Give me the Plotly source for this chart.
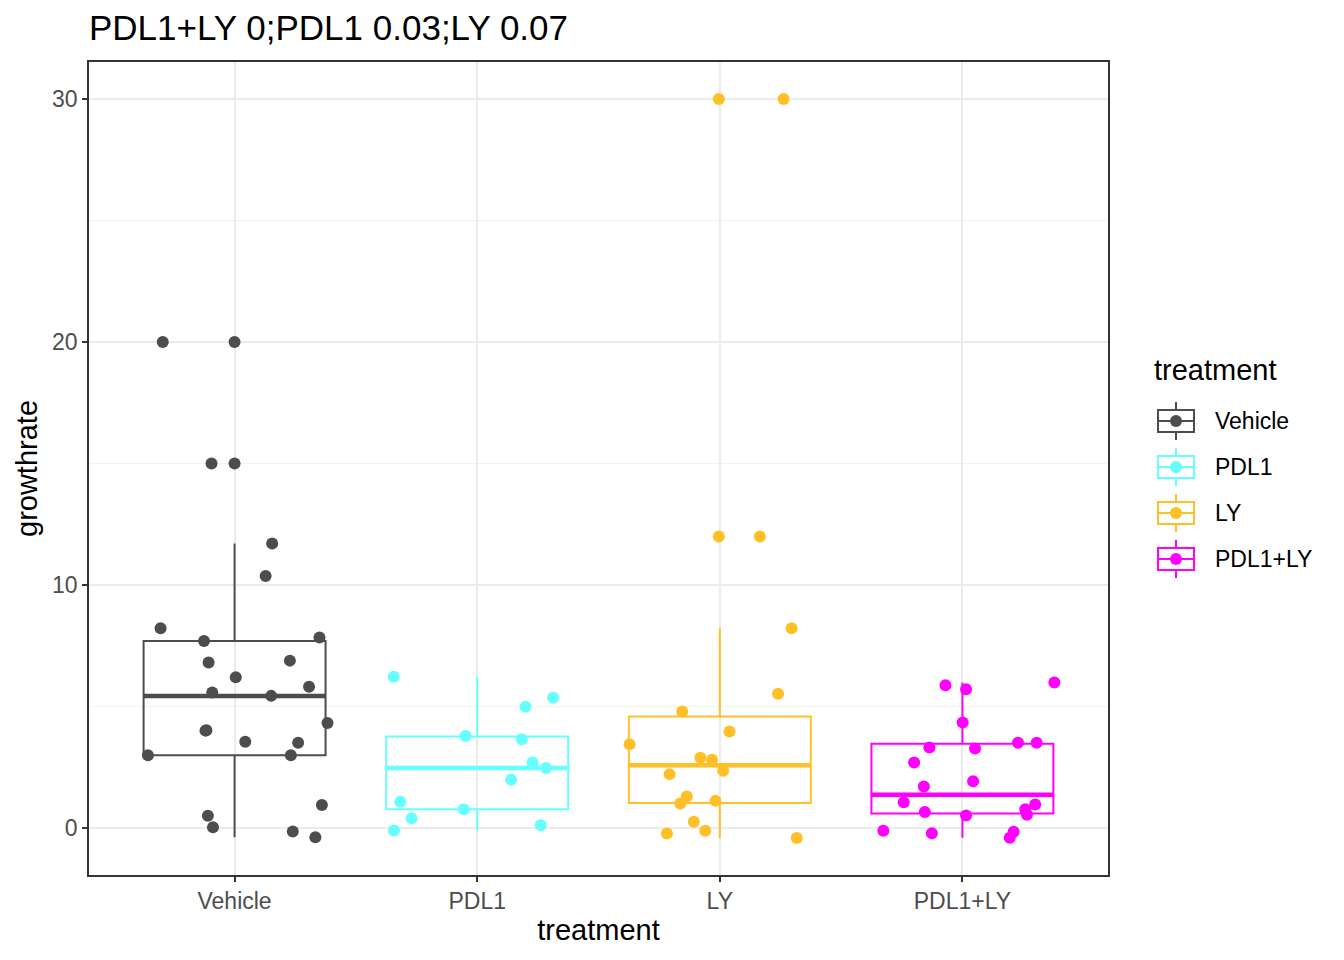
import plotly.graph_objects as go

categories = ["Vehicle", "PDL1", "LY", "PDL1+LY"]
colors = ["#4D4D4D", "#66FFFF", "#FFBF26", "#FF00FF"]

vehicle_growth = [20, 20, 15, 15, 11.71, 10.37, 8.22, 7.70, 7.84, 6.81, 6.89, 6.21, 5.82, 5.58,
                  5.44, 4.32, 4.03, 4.01, 3.55, 3.51, 3.0, 3.0, 0.95, 0.51, 0.03, -0.14, -0.38]
vehicle_jitter = [-0.296, 0.0, -0.095, 0.0, 0.155, 0.128, -0.305, -0.126, 0.35, -0.107, 0.228, 0.005, 0.307, -0.092,
                  0.151, 0.383, -0.116, -0.12, 0.044, 0.262, -0.357, 0.232, 0.36, -0.11, -0.089, 0.24, 0.333]

pdl1_growth = [6.23, 5.36, 4.99, 3.79, 3.66, 2.70, 2.47, 1.99, 1.08, 0.78, 0.40, 0.12, -0.10]
pdl1_jitter = [-0.344, 0.313, 0.199, -0.048, 0.184, 0.228, 0.284, 0.14, -0.317, -0.055, -0.27, 0.262, -0.343]

ly_growth = [30, 30, 12, 12, 8.22, 5.53, 4.80, 3.97, 3.45, 2.89, 2.81, 2.36, 2.22, 1.30, 1.01, 1.12,
             0.26, -0.22, -0.11, -0.41]
ly_jitter = [-0.004, 0.263, -0.004, 0.165, 0.296, 0.24, -0.155, 0.04, -0.372, -0.08, -0.032, 0.014, -0.207,
             -0.136, -0.163, -0.018, -0.107, -0.218, -0.06, 0.317]

combo_growth = [5.88, 5.71, 5.99, 4.34, 3.32, 3.27, 3.51, 3.51, 2.70, 1.93, 1.71, 1.06, 0.66, 0.52, 0.78,
                0.97, 0.55, -0.11, -0.21, -0.15, -0.40]
combo_jitter = [-0.07, 0.015, 0.379, 0.001, -0.136, 0.052, 0.229, 0.306, -0.199, 0.044, -0.159, -0.242,
                -0.155, 0.015, 0.259, 0.3, 0.266, -0.326, -0.126, 0.211, 0.195]

box_q1 = [3.0, 0.78, 1.03, 0.60]
box_median = [5.43, 2.47, 2.59, 1.37]
box_q3 = [7.70, 3.77, 4.59, 3.47]
box_lower = [-0.38, -0.10, -0.41, -0.40]
box_upper = [11.71, 6.23, 8.22, 5.99]

y_ticks = [0, 10, 20, 30]
title_text = "PDL1+LY 0;PDL1 0.03;LY 0.07"
legend_title = "treatment"

growth = [vehicle_growth, pdl1_growth, ly_growth, combo_growth]
jitter = [vehicle_jitter, pdl1_jitter, ly_jitter, combo_jitter]

# page body has an 8px margin; compensate so the plot lands where intended
W, H = 1336, 952
ML, MR, MT, MB = 81, 236, 54, 85
PW = W - ML - MR
PH = H - MT - MB


def px_x(px):
    return (px - 8 - ML) / PW


def px_y(py):
    return (H - MB - (py - 8)) / PH


BOX_W = 0.75
fig = go.Figure()

for i, cat in enumerate(categories):
    pos = i + 1
    fig.add_trace(go.Box(
        x=[pos], q1=[box_q1[i]], median=[box_median[i]], q3=[box_q3[i]],
        lowerfence=[box_lower[i]], upperfence=[box_upper[i]],
        width=BOX_W, whiskerwidth=0, boxpoints=False,
        line=dict(color=colors[i], width=2), fillcolor="rgba(255,255,255,0)",
        name=cat, showlegend=False, hoverinfo="skip",
    ))
    fig.add_trace(go.Scatter(
        x=[pos - BOX_W / 2, pos + BOX_W / 2], y=[box_median[i]] * 2,
        mode="lines", line=dict(color=colors[i], width=4.5),
        showlegend=False, hoverinfo="skip",
    ))

for i, cat in enumerate(categories):
    pos = i + 1
    fig.add_trace(go.Scatter(
        x=[pos + j for j in jitter[i]], y=growth[i],
        mode="markers", marker=dict(color=colors[i], size=12, line=dict(width=0)),
        showlegend=False, name=cat,
    ))

# manual ggplot-style legend
shapes = []
annotations = []
annotations.append(dict(text=legend_title, xref="paper", yref="paper", x=px_x(1152), y=px_y(370),
                        xanchor="left", yanchor="middle", showarrow=False,
                        font=dict(size=29, color="black")))
for i, cat in enumerate(categories):
    cy = 421 + 46 * i
    c = colors[i]
    shapes.append(dict(type="line", xref="paper", yref="paper", x0=px_x(1176), x1=px_x(1176),
                       y0=px_y(cy - 19), y1=px_y(cy + 19), line=dict(color=c, width=2)))
    shapes.append(dict(type="rect", xref="paper", yref="paper", x0=px_x(1158), x1=px_x(1194),
                       y0=px_y(cy - 11), y1=px_y(cy + 11), line=dict(color=c, width=2), fillcolor="white"))
    shapes.append(dict(type="line", xref="paper", yref="paper", x0=px_x(1158), x1=px_x(1194),
                       y0=px_y(cy), y1=px_y(cy), line=dict(color=c, width=2)))
    shapes.append(dict(type="circle", xref="paper", yref="paper", x0=px_x(1170), x1=px_x(1182),
                       y0=px_y(cy - 6), y1=px_y(cy + 6), line=dict(color=c, width=0), fillcolor=c))
    annotations.append(dict(text=cat, xref="paper", yref="paper", x=px_x(1213), y=px_y(cy),
                            xanchor="left", yanchor="middle", showarrow=False,
                            font=dict(size=23, color="black")))

fig.update_layout(
    width=W, height=H,
    margin=dict(l=ML, r=MR, t=MT, b=MB, autoexpand=False),
    paper_bgcolor="white", plot_bgcolor="white",
    font=dict(family="Liberation Sans, Arial, sans-serif", color="black"),
    title=dict(text=title_text, x=(89 - 8) / W, xanchor="left", y=1 - (28 - 8) / H, yanchor="middle",
               xref="container", yref="container", font=dict(size=35, color="black")),
    showlegend=False,
    shapes=shapes,
    annotations=annotations,
)

fig.update_xaxes(
    range=[0.4, 4.6], tickvals=[1, 2, 3, 4], ticktext=categories,
    showgrid=True, gridcolor="#EBEBEB", gridwidth=2, zeroline=False,
    ticks="outside", ticklen=5, tickwidth=1.5, tickcolor="#333333",
    tickfont=dict(size=23, color="#4D4D4D"),
    title=dict(text="treatment", font=dict(size=29), standoff=6),
    showline=True, linecolor="#333333", linewidth=1.5, mirror=True, automargin=False,
)
fig.update_yaxes(
    range=[-1.93, 31.52], tickvals=y_ticks,
    showgrid=True, gridcolor="#EBEBEB", gridwidth=2, zeroline=False,
    minor=dict(dtick=5, tick0=5, showgrid=True, gridcolor="#F2F2F2", gridwidth=1),
    ticks="outside", ticklen=5, tickwidth=1.5, tickcolor="#333333",
    tickfont=dict(size=23, color="#4D4D4D"),
    title=dict(text="growthrate", font=dict(size=29), standoff=6),
    showline=True, linecolor="#333333", linewidth=1.5, mirror=True, automargin=False,
)

fig.write_html("out.html")
